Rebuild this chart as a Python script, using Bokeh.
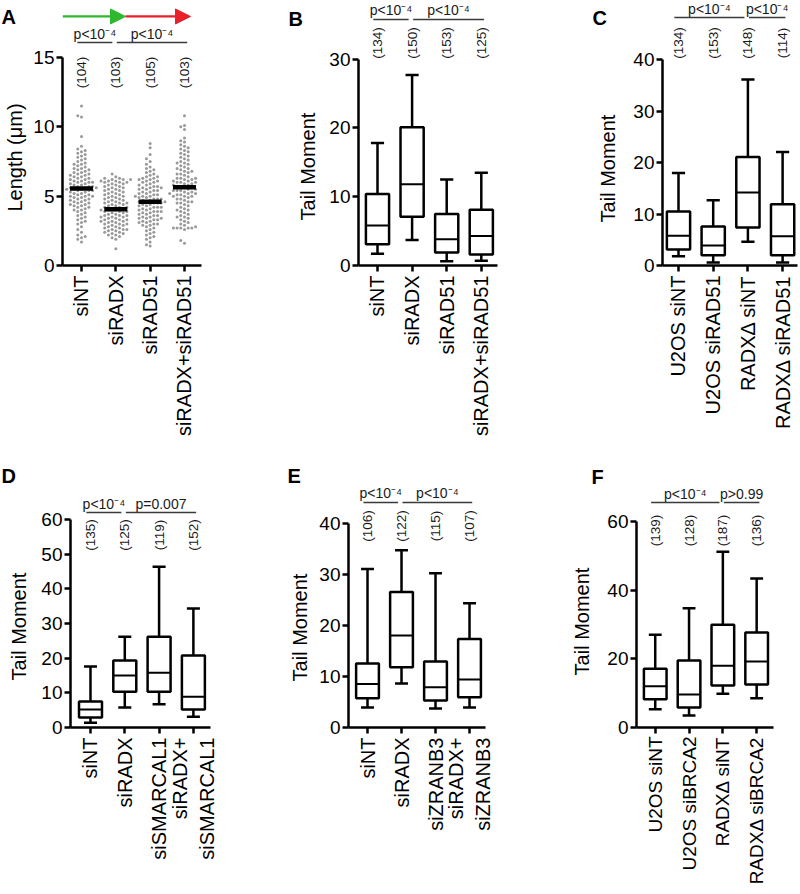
import math
import numpy as np
from bokeh.plotting import figure
from bokeh.layouts import column, row
from bokeh.models import Range1d, FixedTicker, Arrow, NormalHead
from bokeh.core.properties import value
from bokeh.embed import file_html
from bokeh.resources import INLINE

FONT = "Liberation Sans"
P4 = "p<10\u207b\u2074"

# ---------------- Panel A : fibre length scatter ----------------
a_cats = ["siNT", "siRADX", "siRAD51", "siRADX+siRAD51"]
a_counts = ["(104)", "(103)", "(105)", "(103)"]
a_medians = [5.55, 4.05, 4.6, 5.65]
a_siNT = [1.7, 1.9, 2.0, 2.1, 2.2, 2.4, 2.6, 2.8, 3.0, 3.1,
          3.2, 3.3, 3.4, 3.5, 3.6, 3.7, 3.8, 3.9, 4.0, 4.0,
          4.1, 4.2, 4.2, 4.3, 4.3, 4.4, 4.4, 4.5, 4.5, 4.6,
          4.6, 4.7, 4.7, 4.8, 4.8, 4.9, 4.9, 5.0, 5.0, 5.0,
          5.1, 5.1, 5.2, 5.2, 5.3, 5.3, 5.4, 5.4, 5.4, 5.5,
          5.5, 5.5, 5.6, 5.6, 5.6, 5.7, 5.7, 5.7, 5.8, 5.8,
          5.9, 5.9, 6.0, 6.0, 6.0, 6.1, 6.1, 6.2, 6.2, 6.3,
          6.3, 6.4, 6.4, 6.5, 6.5, 6.6, 6.6, 6.7, 6.7, 6.8,
          6.9, 6.9, 7.0, 7.0, 7.1, 7.2, 7.3, 7.3, 7.4, 7.5,
          7.6, 7.7, 7.8, 7.9, 8.0, 8.1, 8.2, 8.3, 8.4, 8.6,
          9.3, 10.7, 10.8, 11.5]
a_siRADX = [1.2, 1.9, 2.0, 2.1, 2.2, 2.2, 2.3, 2.4, 2.4, 2.5,
            2.5, 2.6, 2.6, 2.7, 2.7, 2.8, 2.8, 2.9, 2.9, 3.0,
            3.0, 3.1, 3.1, 3.2, 3.2, 3.2, 3.3, 3.3, 3.4, 3.4,
            3.5, 3.5, 3.5, 3.6, 3.6, 3.7, 3.7, 3.8, 3.8, 3.9,
            3.9, 4.0, 4.0, 4.0, 4.1, 4.1, 4.2, 4.2, 4.3, 4.3,
            4.4, 4.4, 4.5, 4.5, 4.6, 4.6, 4.7, 4.7, 4.8, 4.8,
            4.9, 4.9, 5.0, 5.0, 5.1, 5.1, 5.2, 5.2, 5.3, 5.3,
            5.4, 5.4, 5.5, 5.5, 5.6, 5.6, 5.7, 5.7, 5.8, 5.8,
            5.9, 5.9, 6.0, 6.0, 6.0, 6.1, 6.1, 6.1, 6.2, 6.2,
            6.2, 6.3, 6.3, 6.4, 6.6, 2.3, 2.6, 3.0, 3.3, 3.6,
            3.9, 4.2, 4.5]
a_siRAD51 = [1.4, 1.5, 1.7, 1.9, 2.0, 2.1, 2.2, 2.3, 2.4, 2.5,
             2.6, 2.7, 2.8, 2.9, 2.9, 3.0, 3.0, 3.1, 3.2, 3.2,
             3.3, 3.3, 3.4, 3.4, 3.5, 3.5, 3.6, 3.6, 3.7, 3.7,
             3.8, 3.8, 3.9, 3.9, 4.0, 4.0, 4.1, 4.1, 4.2, 4.2,
             4.3, 4.3, 4.4, 4.4, 4.5, 4.5, 4.5, 4.6, 4.6, 4.6,
             4.7, 4.7, 4.8, 4.8, 4.9, 4.9, 5.0, 5.0, 5.1, 5.1,
             5.2, 5.2, 5.3, 5.3, 5.4, 5.4, 5.5, 5.5, 5.6, 5.6,
             5.7, 5.7, 5.8, 5.8, 5.9, 6.0, 6.0, 6.1, 6.1, 6.2,
             6.2, 6.3, 6.4, 6.4, 6.5, 6.6, 6.7, 6.8, 6.9, 7.0,
             7.1, 7.3, 7.5, 7.7, 8.0, 8.5, 8.8, 3.1, 3.4, 3.9,
             4.2, 4.8, 5.0, 5.6, 6.3]
a_combo = [1.6, 1.8, 2.6, 2.7, 2.7, 2.7, 2.7, 2.7, 2.8, 2.9,
           3.0, 3.2, 3.3, 3.4, 3.5, 3.6, 3.7, 3.8, 3.9, 4.0,
           4.1, 4.2, 4.3, 4.4, 4.5, 4.6, 4.6, 4.7, 4.8, 4.8,
           4.9, 5.0, 5.0, 5.1, 5.1, 5.2, 5.2, 5.3, 5.3, 5.4,
           5.4, 5.5, 5.5, 5.6, 5.6, 5.7, 5.7, 5.8, 5.8, 5.9,
           5.9, 6.0, 6.0, 6.1, 6.1, 6.2, 6.2, 6.3, 6.3, 6.4,
           6.5, 6.6, 6.7, 6.8, 6.9, 7.0, 7.1, 7.2, 7.3, 7.4,
           7.5, 7.6, 7.7, 7.8, 7.9, 8.0, 8.1, 8.2, 8.3, 8.4,
           8.5, 8.6, 8.7, 8.9, 9.0, 9.2, 9.8, 10.0, 10.1, 10.8,
           3.1, 3.5, 4.0, 4.5, 5.0, 5.2, 5.4, 6.0, 6.3, 6.6,
           6.8, 7.0, 7.4]

# ---------------- Panel B ----------------
b_cats = ["siNT", "siRADX", "siRAD51", "siRADX+siRAD51"]
b_counts = ["(134)", "(150)", "(153)", "(125)"]
b_low = [1.7, 3.7, 0.6, 0.7]
b_q1 = [3.1, 7.1, 1.9, 1.6]
b_med = [5.8, 11.8, 3.8, 4.3]
b_q3 = [10.4, 20.1, 7.5, 8.1]
b_high = [17.8, 27.7, 12.5, 13.5]

# ---------------- Panel C ----------------
c_cats = ["U2OS siNT", "U2OS siRAD51", "RADX\u0394 siNT", "RADX\u0394 siRAD51"]
c_counts = ["(134)", "(153)", "(148)", "(114)"]
c_low = [1.8, 0.6, 4.6, 0.6]
c_q1 = [3.1, 2.0, 7.4, 2.0]
c_med = [5.8, 3.9, 14.2, 5.7]
c_q3 = [10.5, 7.6, 21.1, 11.9]
c_high = [18.0, 12.7, 36.2, 22.1]

# ---------------- Panel D ----------------
d_cats = ["siNT", "siRADX", "siSMARCAL1", "siRADX+\nsiSMARCAL1"]
d_counts = ["(135)", "(125)", "(119)", "(152)"]
d_low = [1.4, 5.8, 6.7, 3.1]
d_q1 = [2.9, 10.3, 10.3, 5.2]
d_med = [5.2, 15.0, 15.8, 8.9]
d_q3 = [7.5, 19.3, 26.2, 20.8]
d_high = [17.6, 26.2, 46.4, 34.3]

# ---------------- Panel E ----------------
e_cats = ["siNT", "siRADX", "siZRANB3", "siRADX+\nsiZRANB3"]
e_counts = ["(106)", "(122)", "(115)", "(107)"]
e_low = [3.9, 8.6, 3.7, 3.9]
e_q1 = [5.7, 11.8, 5.3, 5.9]
e_med = [8.5, 18.0, 7.9, 9.4]
e_q3 = [12.5, 26.5, 12.9, 17.3]
e_high = [31.0, 34.7, 30.2, 24.3]

# ---------------- Panel F ----------------
f_cats = ["U2OS siNT", "U2OS siBRCA2", "RADX\u0394 siNT", "RADX\u0394 siBRCA2"]
f_counts = ["(139)", "(128)", "(187)", "(136)"]
f_low = [5.3, 3.5, 9.8, 8.5]
f_q1 = [8.2, 5.8, 12.2, 12.5]
f_med = [12.0, 9.6, 18.0, 19.2]
f_q3 = [17.1, 19.5, 29.9, 27.7]
f_high = [27.0, 34.7, 51.2, 43.4]

ROW1_H, ROW1_MB = 440, 175   # frame bottom at y=265
ROW2_H, ROW2_MB = 454, 167   # frame bottom at y=727


def base(width, height, ml, mr, mb, xr, yr):
    p = figure(width=width, height=height, x_range=Range1d(*xr), y_range=Range1d(*yr),
               output_backend="svg", toolbar_location=None,
               min_border_left=ml, min_border_right=mr, min_border_top=0, min_border_bottom=mb)
    p.xgrid.visible = False
    p.ygrid.visible = False
    p.outline_line_color = None
    return p


def style_axes(p, cats, yticks, xfont="20px", xstand=4):
    xa = p.xaxis[0]
    ya = p.yaxis[0]
    for ax in (xa, ya):
        ax.axis_line_width = 2.5
        ax.axis_line_color = "black"
        ax.major_tick_line_width = 2.5
        ax.major_tick_line_color = "black"
        ax.major_tick_out = 6
        ax.major_tick_in = 0
        ax.minor_tick_line_color = None
        ax.major_label_text_font = FONT
        ax.major_label_text_color = "black"
    xa.ticker = FixedTicker(ticks=list(range(len(cats))))
    xa.major_label_overrides = {i: c for i, c in enumerate(cats)}
    xa.major_label_orientation = math.pi / 2
    xa.major_label_text_font_size = xfont
    xa.major_label_standoff = xstand
    ya.ticker = FixedTicker(ticks=yticks)
    ya.bounds = (0, yticks[-1])
    ya.major_label_text_font_size = "19px"
    ya.major_label_standoff = 2


def side(width, height, mb, x0, top, bottom, letter, lx, ly, ylabel, cx, cy):
    s = figure(width=width, height=height, x_range=Range1d(x0, x0 + width),
               y_range=Range1d(bottom, top), output_backend="svg", toolbar_location=None,
               x_axis_location=None, y_axis_location=None,
               min_border_left=0, min_border_right=0, min_border_top=0, min_border_bottom=mb)
    s.outline_line_color = None
    for g in s.renderers + list(s.center):
        pass
    s.xgrid.visible = False
    s.ygrid.visible = False
    s.grid.grid_line_color = None
    s.text(x=[lx], y=[ly], text=[letter], text_align="left", text_baseline="middle",
           text_font=value(FONT), text_font_size="20px", text_font_style="bold", text_color="black")
    s.text(x=[cx], y=[cy], text=[ylabel], angle=math.pi / 2, text_align="center",
           text_baseline="middle", text_font=value(FONT), text_font_size="20px", text_color="black")
    return s


def boxes(p, low, q1, med, q3, high, hw=0.335, cw=0.19):
    x = np.arange(len(med), dtype=float)
    kw = dict(line_color="black", line_width=2.5)
    p.segment(x0=x, y0=q3, x1=x, y1=high, **kw)
    p.segment(x0=x, y0=low, x1=x, y1=q1, **kw)
    p.segment(x0=x - cw, y0=high, x1=x + cw, y1=high, **kw)
    p.segment(x0=x - cw, y0=low, x1=x + cw, y1=low, **kw)
    p.vbar(x=x, width=2 * hw, bottom=q1, top=q3, fill_color="white", **kw)
    p.segment(x0=x - hw, y0=med, x1=x + hw, y1=med, line_color="black", line_width=2)


def brackets(p, spans, texts, ylev):
    for k, ((a, b), t) in enumerate(zip(spans, texts)):
        x0 = a - 0.12 if k == 0 else a + 0.03
        x1 = b - 0.10 if k == 0 else b + 0.08
        p.segment(x0=[x0], y0=[ylev], x1=[x1], y1=[ylev], line_color="#3a3a3a", line_width=1.5)
        p.text(x=[(x0 + x1) / 2], y=[ylev], text=[t], text_align="center", text_baseline="bottom",
               y_offset=-1, text_font=value(FONT), text_font_size="14px", text_color="#1a1a1a")


def counts(p, labels, ylev):
    p.text(x=list(range(len(labels))), y=[ylev] * len(labels), text=labels, angle=math.pi / 2,
           text_align="center", text_baseline="middle", text_font=value(FONT),
           text_font_size="13.5px", text_color="#1a1a1a")


def swarm(vals, px_x, px_y, d=3.7):
    vals = np.asarray(vals, dtype=float)
    order = np.argsort(vals, kind="stable")
    cands = sorted([k * d / 2 for k in range(-24, 25)], key=lambda c: (abs(c), c))
    placed = []
    xs = np.zeros(len(vals))
    for idx in order:
        y = vals[idx] * px_y
        near = [(px, py) for px, py in placed if abs(y - py) < d]
        for c in cands:
            if all((c - px) ** 2 + (y - py) ** 2 >= d * d for px, py in near):
                break
        placed.append((c, y))
        xs[idx] = c / px_x
    return xs


# ---------------- row 1 ----------------
sA = side(30, ROW1_H, ROW1_MB, 0, 0, 265, "A", 1, 16, "Length (\u03bcm)", 14, 157)
pA = base(238, ROW1_H, 32, 67, ROW1_MB, (-0.553, 3.496), (0, 19.11))
style_axes(pA, a_cats, [0, 5, 10, 15])
for i, grp in enumerate([a_siNT, a_siRADX, a_siRAD51, a_combo]):
    off = swarm(grp, 34.33, 13.867)
    pA.scatter(x=i + off, y=grp, size=3.0, fill_color="#999999", line_color=None)
pA.rect(x=list(range(4)), y=a_medians, width=0.67, height=4.5, height_units="screen",
        fill_color="black", line_color=None)
brackets(pA, [(0, 1), (1, 3)], [P4, P4], 16.08)
counts(pA, a_counts, 13.92)
green, red = "#2db82d", "#e8202a"
pA.add_layout(Arrow(end=NormalHead(size=15, fill_color=green, line_color=green, line_width=1),
                    x_start=-0.553, y_start=17.96, x_end=1.282, y_end=17.96,
                    line_color=green, line_width=2.2))
pA.add_layout(Arrow(end=NormalHead(size=15, fill_color=red, line_color=red, line_width=1),
                    x_start=1.282, y_start=17.96, x_end=3.175, y_end=17.96,
                    line_color=red, line_width=2.2))

sB = side(52, ROW1_H, ROW1_MB, 268, 0, 265, "B", 288, 18, "Tail Moment", 307, 166)
pB = base(210, ROW1_H, 38, 33, ROW1_MB, (-0.549, 3.468), (0, 38.53))
style_axes(pB, b_cats, [0, 10, 20, 30])
boxes(pB, b_low, b_q1, b_med, b_q3, b_high)
brackets(pB, [(0, 1), (1, 3)], [P4, P4], 35.77)
counts(pB, b_counts, 32.35)

sC = side(90, ROW1_H, ROW1_MB, 530, 0, 265, "C", 592, 17, "Tail Moment", 607, 168)
pC = base(180, ROW1_H, 42, 3, ROW1_MB, (-0.461, 3.429), (0, 51.56))
style_axes(pC, c_cats, [0, 10, 20, 30, 40])
boxes(pC, c_low, c_q1, c_med, c_q3, c_high)
brackets(pC, [(0, 2), (2, 3)], [P4, P4], 48.25)
counts(pC, c_counts, 43.29)

# ---------------- row 2 ----------------
sD = side(32, ROW2_H, ROW2_MB, 0, 440, 727, "D", 1, 475, "Tail Moment", 18, 626)
pD = base(236, ROW2_H, 38, 58, ROW2_MB, (-0.583, 3.499), (0, 82.78))
style_axes(pD, d_cats, [0, 10, 20, 30, 40, 50, 60])
boxes(pD, d_low, d_q1, d_med, d_q3, d_high)
brackets(pD, [(0, 1), (1, 3)], [P4, "p=0.007"], 62.01)
counts(pD, d_counts, 55.52)

sE = side(44, ROW2_H, ROW2_MB, 268, 440, 727, "E", 287, 475, "Tail Moment", 299, 627)
pE = base(218, ROW2_H, 36, 45, ROW2_MB, (-0.559, 3.47), (0, 56.16))
style_axes(pE, e_cats, [0, 10, 20, 30, 40])
boxes(pE, e_low, e_q1, e_med, e_q3, e_high)
brackets(pE, [(0, 1), (1, 3)], [P4, P4], 44.03)
counts(pE, e_counts, 39.43)

sF = side(74, ROW2_H, ROW2_MB, 530, 440, 727, "F", 591, 476, "Tail Moment", 581, 621)
pF = base(196, ROW2_H, 30, 27, ROW2_MB, (-0.554, 3.498), (0, 83.6))
style_axes(pF, f_cats, [0, 20, 40, 60], xfont="19px", xstand=3)
boxes(pF, f_low, f_q1, f_med, f_q3, f_high)
brackets(pF, [(0, 2), (2, 3)], [P4, "p>0.99"], 65.54)
counts(pF, f_counts, 57.38)

layout = column(row(sA, pA, sB, pB, sC, pC), row(sD, pD, sE, pE, sF, pF))
open("out.html", "w").write(file_html(layout, INLINE))
